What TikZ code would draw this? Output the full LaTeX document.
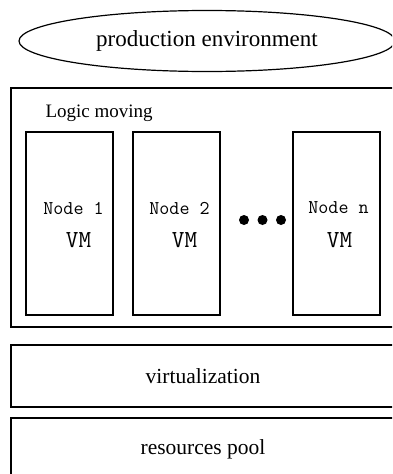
\documentclass[tikz,border=0pt]{standalone}
\usepackage{fontspec}
\setmainfont{Liberation Serif}
\usetikzlibrary{positioning,shapes.geometric}

\begin{document}
\begin{tikzpicture}[x=1pt,y=-1pt,line width=1.2pt,
		layer/.style={draw,minimum width=384pt,minimum height=62pt,inner sep=0pt,
			font=\fontsize{21.5pt}{24pt}\selectfont},
		vmbox/.style={draw,minimum width=87pt,minimum height=183pt,inner sep=0pt},
		nlabel/.style={font=\ttfamily\fontsize{19.5pt}{22pt}\selectfont,inner sep=0pt},
		vmlabel/.style={font=\ttfamily\fontsize{24.5pt}{26pt}\selectfont,inner sep=0pt}
		]
		\useasboundingbox (0,0) rectangle (392,474);
		\clip (0,0) rectangle (392,474);
		
		\node[draw,ellipse,minimum width=376pt,minimum height=61pt,inner sep=0pt,
			font=\fontsize{23pt}{26pt}\selectfont] (prod) at (207,41) {production environment};
		
		\node[draw,minimum width=384pt,minimum height=239pt,inner sep=0pt] (logic) at (203,207.5) {};
		\node[anchor=west,inner sep=0pt,font=\fontsize{19pt}{22pt}\selectfont] (title) at (45,113) {Logic moving};
		
		\node[vmbox] (n1) at (69.5,223.5) {};
		\node[vmbox] (n2) [right=18.8pt of n1] {};
		\node[vmbox] (nn) [right=71.8pt of n2] {};
		
		\node[nlabel] (t1) at ([xshift=4pt,yshift=15.5pt]n1.center) {Node 1};
		\node[nlabel] (t2) at ([xshift=3pt,yshift=15.5pt]n2.center) {Node 2};
		\node[nlabel] (tn) at ([xshift=2pt,yshift=15.5pt]nn.center) {Node n};
		\node[vmlabel] (v1) at ([xshift=9pt,yshift=-16.5pt]n1.center) {VM};
		\node[vmlabel] (v2) at ([xshift=8pt,yshift=-16.5pt]n2.center) {VM};
		\node[vmlabel] (vn) at ([xshift=3pt,yshift=-16.5pt]nn.center) {VM};
		
		% dots between node 2 and node n
		\foreach \x in {244,262.5,281}
			\fill (\x,220) circle (5pt);
		
		\node[layer] (virt) at (203,376) {virtualization};
		\node[layer] (pool) at (203,449) {resources pool};
	\end{tikzpicture}
\end{document}
